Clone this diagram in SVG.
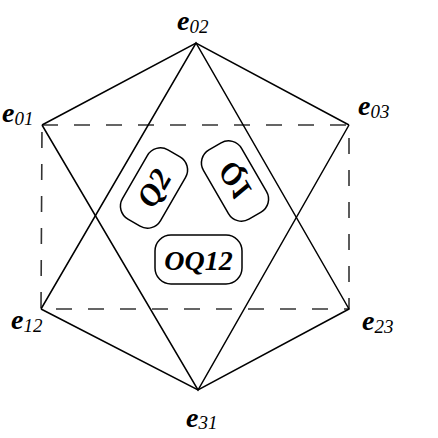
<svg xmlns="http://www.w3.org/2000/svg" width="438" height="438" viewBox="0 0 438 438">
<style>
.ln{stroke:#000;stroke-width:1.5;fill:none;stroke-linejoin:miter}
.ds{stroke:#333;stroke-width:1.6;fill:none;stroke-dasharray:16 16}
.box{stroke:#000;stroke-width:1.5;fill:#fff}
.e{font-family:"Liberation Serif","Times New Roman",serif;font-weight:bold;font-style:italic;font-size:28px}
.sub{font-family:"Liberation Serif","Times New Roman",serif;font-style:italic;font-weight:normal;font-size:19px}
.t{font-family:"Liberation Serif","Times New Roman",serif;font-weight:bold;font-style:italic;font-size:28px;text-anchor:middle;dominant-baseline:central}
.tq{font-size:31px}
</style>
<rect width="438" height="438" fill="#fff"/>
<g id="connectors">
<polygon class="ds" points="42,125 349,125 349,309 41,309"/>
<polyline class="ln" points="42,125 196,43 349,125"/>
<polyline class="ln" points="41,309 198,390 349,309"/>
<polyline class="ln" points="41,309 196,43 349,309"/>
<polyline class="ln" points="42,125 198,390 349,125"/>
</g>
<g id="e02"><text class="e" x="177" y="30">e<tspan class="sub" dy="3">02</tspan></text></g>
<g id="e01"><text class="e" x="2" y="122">e<tspan class="sub" dy="3">01</tspan></text></g>
<g id="e03"><text class="e" x="358" y="115">e<tspan class="sub" dy="3">03</tspan></text></g>
<g id="e12"><text class="e" x="11" y="329">e<tspan class="sub" dy="3">12</tspan></text></g>
<g id="e23"><text class="e" x="362" y="330">e<tspan class="sub" dy="3">23</tspan></text></g>
<g id="e31"><text class="e" x="186" y="427">e<tspan class="sub" dy="2">31</tspan></text></g>
<g id="Q2" transform="translate(154,188) rotate(-60)">
<rect class="box" x="-40" y="-22" width="80" height="44" rx="15"/>
<text class="t tq" x="0" y="0">Q2</text>
</g>
<g id="Q1" transform="translate(235,181) rotate(60)">
<rect class="box" x="-40" y="-22" width="80" height="44" rx="15"/>
<text class="t tq" x="0" y="0" transform="scale(1,-1)">Q1</text>
</g>
<g id="OQ12">
<rect class="box" x="155" y="235" width="87" height="49" rx="16"/>
<text class="t" x="198.5" y="260">OQ12</text>
</g>
</svg>
